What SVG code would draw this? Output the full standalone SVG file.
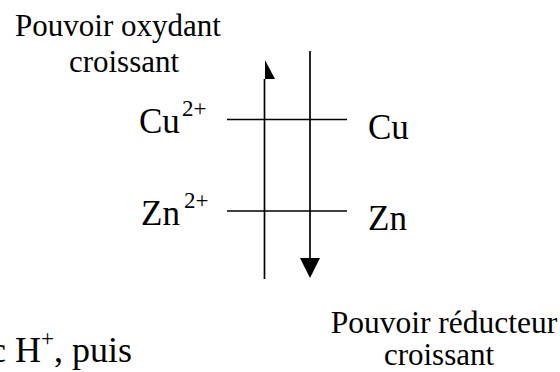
<svg xmlns="http://www.w3.org/2000/svg" width="560" height="372" viewBox="0 0 560 372">
<style>
  text { font-family: "Liberation Serif", "Times New Roman", serif; fill: #000; }
  .lbl { font-size: 31px; }
  .sp { font-size: 35px; }
  .sup { font-size: 23px; }
  .bt { font-size: 36px; }
  .ln { stroke: #000; stroke-width: 1.7; fill: none; }
</style>
<rect width="560" height="372" fill="#fff"/>
<g id="oxydant-label">
  <text class="lbl" x="118" y="36" text-anchor="middle">Pouvoir oxydant</text>
  <text class="lbl" x="124" y="72" text-anchor="middle">croissant</text>
</g>
<g id="reducteur-label">
  <text class="lbl" x="444" y="333" text-anchor="middle" style="font-size:31.5px">Pouvoir réducteur</text>
  <text class="lbl" x="439" y="365" text-anchor="middle">croissant</text>
</g>
<g id="cu2">
  <text class="sp" x="139" y="133">Cu</text>
  <text class="sup" x="182" y="116">2+</text>
</g>
<g id="zn2">
  <text class="sp" x="141" y="225">Zn</text>
  <text class="sup" x="184" y="208">2+</text>
</g>
<g id="cu">
  <text class="sp" x="368" y="139">Cu</text>
</g>
<g id="zn">
  <text class="sp" x="368" y="230">Zn</text>
</g>
<g id="bottom-text">
  <text class="bt" x="-10" y="362">c H<tspan class="sup" dy="-16">+</tspan><tspan dy="16">, puis</tspan></text>
</g>
<g id="connectors">
  <line class="ln" x1="264.5" y1="79" x2="264.5" y2="279"/>
  <polygon points="265,60 275,79 265,79" fill="#000"/>
  <line class="ln" x1="310" y1="51" x2="310" y2="259"/>
  <polygon points="300,258 320,258 310,278" fill="#000"/>
  <line class="ln" x1="227" y1="119.5" x2="347" y2="119.5"/>
  <line class="ln" x1="227" y1="211" x2="347" y2="211"/>
</g>
</svg>
